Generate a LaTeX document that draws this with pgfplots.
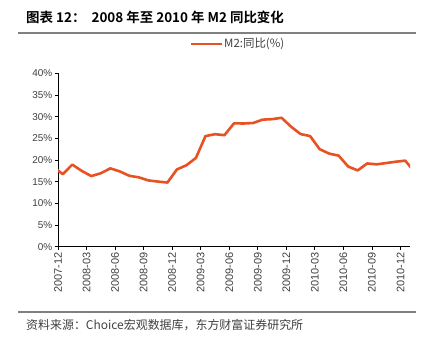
\documentclass[border=0pt]{standalone}
\usepackage{pgfplots}
\pgfplotsset{compat=1.18}
\usepackage{fontspec}
\setmainfont{Liberation Sans}
\newfontfamily\cjk{Noto Sans CJK SC}
\newfontfamily\cjkb{Noto Sans CJK SC}[BoldFont={* Bold}]
\definecolor{lineor}{RGB}{232,82,34}
\definecolor{rulegray}{RGB}{128,128,128}
\definecolor{txtgray}{RGB}{64,64,64}
\begin{document}
\begin{tikzpicture}[x=1bp,y=1bp]
\path[use as bounding box] (0,0) rectangle (436,341);
\node[anchor=west,inner sep=0pt] at (26,324) {\cjkb\bfseries\fontsize{13.5}{15}\selectfont 图表 12：\ \ 2008 年至 2010 年 M2 同比变化};
\draw[rulegray,line width=1.2bp] (18,308) -- (416,308);
\draw[rulegray,line width=1.2bp] (18,29) -- (416,29);
\draw[lineor,line width=2.6bp] (191,297) -- (222,297);
\node[anchor=west,inner sep=0pt,text=txtgray] at (224,297) {\cjk\fontsize{11.5}{13}\selectfont M2:同比(\%)};
\node[anchor=west,inner sep=0pt,text=txtgray] at (26,16) {\cjk\fontsize{12}{14}\selectfont 资料来源：Choice宏观数据库，东方财富证券研究所};
\begin{axis}[
  at={(58bp,94.3bp)}, anchor=origin,
  width=352bp, height=173.4bp, scale only axis,
  xmin=0, xmax=37, ymin=0, ymax=40,
  axis lines=left, axis line style={-, black, line width=0.8bp},
  xtick={0,3,...,36},
  xticklabels={2007-12,2008-03,2008-06,2008-09,2008-12,2009-03,2009-06,2009-09,2009-12,2010-03,2010-06,2010-09,2010-12},
  ytick={0,5,...,40},
  yticklabels={0\%,5\%,10\%,15\%,20\%,25\%,30\%,35\%,40\%},
  tick align=outside, major tick length=3.5bp,
  tick style={black, line width=0.8bp},
  x tick label style={rotate=90, anchor=east, font=\fontsize{11}{12}\selectfont, text=txtgray, inner sep=2bp},
  y tick label style={font=\fontsize{10}{12}\selectfont, text=txtgray, inner sep=2bp},
  clip=true,
]
\addplot[lineor, line width=2.6bp, line join=round] coordinates {
(-0.5,18.45) (0.5,16.72) (1.5,18.94) (2.5,17.48) (3.5,16.29) (4.5,16.94) (5.5,18.07)
(6.5,17.37) (7.5,16.35) (8.5,16.00) (9.5,15.29) (10.5,15.02) (11.5,14.80) (12.5,17.82)
(13.5,18.79) (14.5,20.48) (15.5,25.51) (16.5,25.95) (17.5,25.74) (18.5,28.46) (19.5,28.42)
(20.5,28.53) (21.5,29.31) (22.5,29.42) (23.5,29.74) (24.5,27.68) (25.5,25.98) (26.5,25.52)
(27.5,22.50) (28.5,21.48) (29.5,21.00) (30.5,18.50) (31.5,17.60) (32.5,19.20) (33.5,19.00)
(34.5,19.30) (35.5,19.60) (36.5,19.85) (37.5,17.20)
};
\end{axis}
\end{tikzpicture}
\end{document}
